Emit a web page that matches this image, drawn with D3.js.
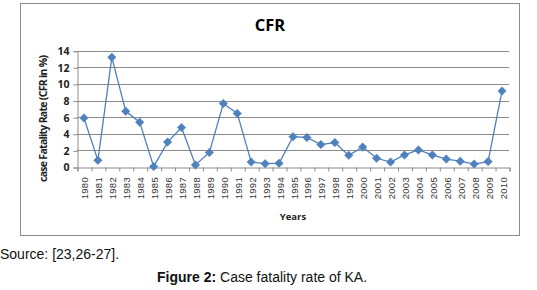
<!DOCTYPE html>
<html lang="en">
  <head>
    <meta charset="utf-8"/>
    <script src="https://d3js.org/d3.v7.min.js"></script>
    <title>CFR</title>
  </head>
  <body>
    <div id="chart"><svg></svg></div>
  </body>
</html>

<style>
  body { margin: 0; background: #fff; }
  svg { display: block; }
</style>

<script>
  const width = 537;
  const height = 290;

  // data
  const years = ["1980","1981","1982","1983","1984","1985","1986","1987","1988","1989",
    "1990","1991","1992","1993","1994","1995","1996","1997","1998","1999","2000",
    "2001","2002","2003","2004","2005","2006","2007","2008","2009","2010"];
  const cfr = [5.9, 0.8, 13.2, 6.7, 5.4, 0.05, 3.0, 4.75, 0.25, 1.75,
    7.65, 6.45, 0.6, 0.4, 0.45, 3.65, 3.55, 2.7, 2.95, 1.4, 2.4,
    1.05, 0.6, 1.45, 2.05, 1.45, 0.95, 0.7, 0.35, 0.65, 9.15];
  const yTicks = [0, 2, 4, 6, 8, 10, 12, 14];

  const plot = {left: 77, right: 509, top: 50.7, bottom: 167};

  const svg = d3.select("#chart").select("svg")
    .attr("width", width)
    .attr("height", height);

  // chart frame
  svg.append("rect")
    .attr("x", 20.5).attr("y", 3.5)
    .attr("width", 499).attr("height", 232)
    .attr("fill", "#fff")
    .attr("stroke", "#8c8c8c")
    .attr("stroke-width", 1);

  const x = d3.scaleBand()
    .domain(years)
    .range([plot.left, plot.right]);

  const xEdge = d3.scaleLinear()
    .domain([0, years.length])
    .range([plot.left, plot.right]);

  const y = d3.scaleLinear()
    .domain([0, 14])
    .range([plot.bottom, plot.top]);

  // gridlines
  svg.append("g")
    .selectAll("line")
    .data(yTicks.slice(1))
    .enter()
    .append("line")
    .attr("x1", plot.left).attr("x2", plot.right)
    .attr("y1", (d) => Math.round(y(d)) + 0.5)
    .attr("y2", (d) => Math.round(y(d)) + 0.5)
    .attr("stroke", "#8c8c8c");

  // y axis
  const yAxis = svg.append("g")
    .attr("transform", "translate(" + (plot.left + 0.5) + ",0.5)")
    .call(d3.axisLeft(y).tickValues(yTicks).tickSize(4).tickPadding(4));
  yAxis.select(".domain").attr("stroke", "#8c8c8c");
  yAxis.selectAll(".tick line").attr("stroke", "#8c8c8c");
  yAxis.selectAll("text")
    .attr("font-family", "'Open Sans', sans-serif")
    .attr("font-weight", "bold")
    .attr("font-size", 10.5)
    .attr("fill", "#222");

  // x axis: ticks on category edges
  const xTickAxis = svg.append("g")
    .attr("transform", "translate(0.5," + (Math.round(plot.bottom) + 0.5) + ")")
    .call(d3.axisBottom(xEdge).tickValues(d3.range(years.length + 1)).tickSize(4).tickFormat(""));
  xTickAxis.select(".domain").attr("stroke", "#8c8c8c");
  xTickAxis.selectAll(".tick line").attr("stroke", "#8c8c8c");

  // x labels, rotated
  svg.append("g")
    .selectAll("text")
    .data(years)
    .enter()
    .append("text")
    .attr("transform", (d) => "translate(" + (x(d) + x.bandwidth() / 2 + 4.5) + "," + 177 + ") rotate(-90)")
    .attr("text-anchor", "end")
    .attr("font-family", "'Liberation Sans', Arial, sans-serif")
    .attr("font-size", 9.5)
    .attr("letter-spacing", 0.3)
    .attr("fill", "#333")
    .text((d) => d);

  // line + diamond markers
  const line = d3.line()
    .x((d, i) => x(years[i]) + x.bandwidth() / 2)
    .y((d) => y(d));

  svg.append("path")
    .datum(cfr)
    .attr("fill", "none")
    .attr("stroke", "#4f81bd")
    .attr("stroke-width", 1.3)
    .attr("d", line);

  svg.append("g")
    .selectAll("path")
    .data(cfr)
    .enter()
    .append("path")
    .attr("d", d3.symbol().type(d3.symbolDiamond2).size(46))
    .attr("transform", (d, i) => "translate(" + (x(years[i]) + x.bandwidth() / 2) + "," + y(d) + ")")
    .attr("fill", "#4f81bd")
    .attr("stroke", "#4f81bd")
    .attr("stroke-width", 0.5);

  // titles
  svg.append("text")
    .attr("x", 270).attr("y", 31)
    .attr("text-anchor", "middle")
    .attr("font-family", "'Open Sans', sans-serif")
    .attr("font-weight", "bold")
    .attr("font-size", 16.5)
    .attr("fill", "#000")
    .text("CFR");

  svg.append("text")
    .attr("transform", "translate(46.5,118.5) rotate(-90)")
    .attr("text-anchor", "middle")
    .attr("font-family", "'Open Sans', sans-serif")
    .attr("font-weight", "bold")
    .attr("font-size", 10.5)
    .attr("textLength", 127)
    .attr("lengthAdjust", "spacing")
    .attr("fill", "#222")
    .text("case Fatality Rate (CFR in %)");

  svg.append("text")
    .attr("x", 293).attr("y", 220)
    .attr("text-anchor", "middle")
    .attr("font-family", "'Open Sans', sans-serif")
    .attr("font-weight", "bold")
    .attr("font-size", 9.5)
    .attr("fill", "#222")
    .text("Years");

  // source + caption
  svg.append("text")
    .attr("x", 0).attr("y", 259)
    .attr("font-family", "'Liberation Sans', Arial, sans-serif")
    .attr("font-size", 14)
    .attr("fill", "#111")
    .text("Source: [23,26-27].");

  const cap = svg.append("text")
    .attr("x", 157).attr("y", 282)
    .attr("font-family", "'Liberation Sans', Arial, sans-serif")
    .attr("font-size", 14)
    .attr("fill", "#111");
  cap.append("tspan").attr("font-weight", "bold").text("Figure 2:");
  cap.append("tspan").text(" Case fatality rate of KA.");
</script>
